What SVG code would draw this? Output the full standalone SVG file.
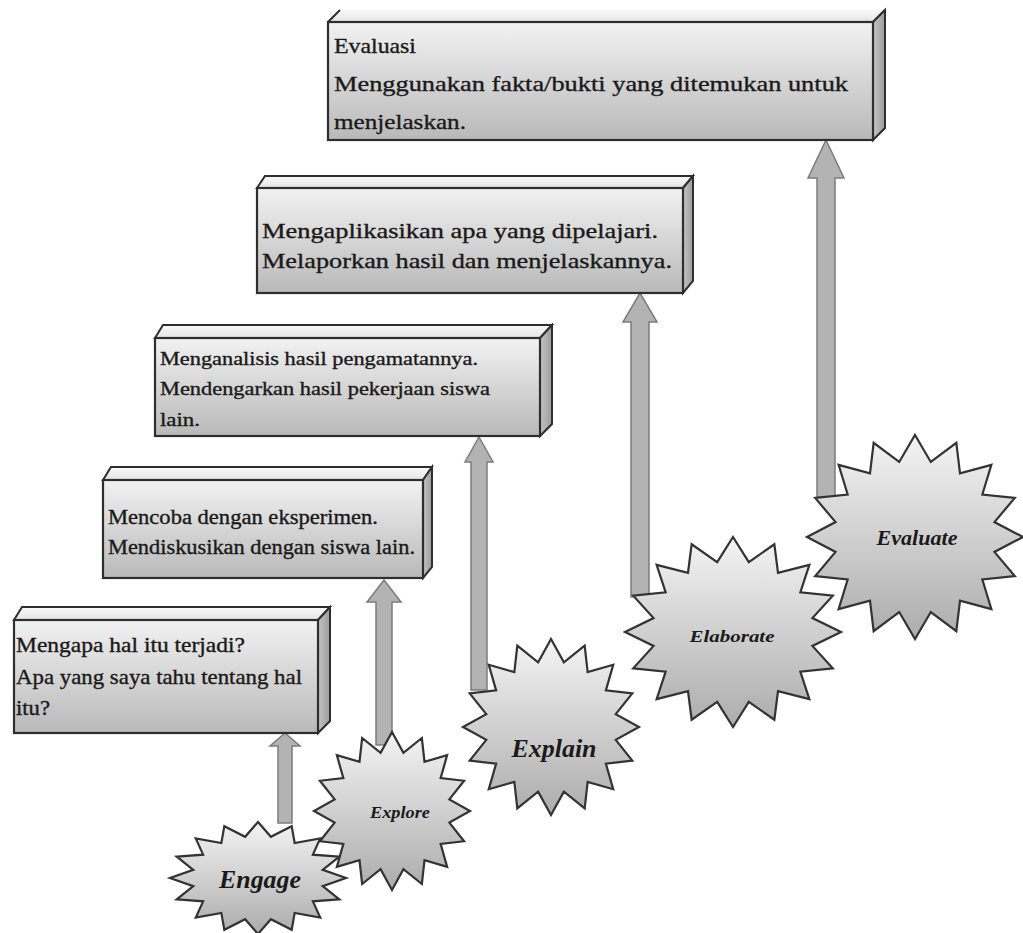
<svg xmlns="http://www.w3.org/2000/svg" xmlns:xlink="http://www.w3.org/1999/xlink" width="1023" height="933" viewBox="0 0 1023 933">
<defs>
<linearGradient id="gFront" x1="0" y1="0" x2="0" y2="1">
<stop offset="0" stop-color="#f2f2f2"/><stop offset="1" stop-color="#b9b9b9"/>
</linearGradient>
<linearGradient id="gTop" x1="0" y1="0" x2="0" y2="1">
<stop offset="0" stop-color="#fafafa"/><stop offset="1" stop-color="#e4e4e4"/>
</linearGradient>
<linearGradient id="gSide" x1="0" y1="0" x2="1" y2="0">
<stop offset="0" stop-color="#c4c4c4"/><stop offset="1" stop-color="#9c9c9c"/>
</linearGradient>
<linearGradient id="gStar" x1="0" y1="0" x2="0" y2="1">
<stop offset="0" stop-color="#f4f4f4"/><stop offset="1" stop-color="#acacac"/>
</linearGradient>
<polygon id="star16" fill="url(#gStar)" stroke="#333" stroke-width="2.2" stroke-linejoin="miter" vector-effect="non-scaling-stroke" points="0,-100 14.63,-73.56 38.27,-92.39 41.67,-62.36 70.71,-70.71 62.36,-41.67 92.39,-38.27 73.56,-14.63 100,0 73.56,14.63 92.39,38.27 62.36,41.67 70.71,70.71 41.67,62.36 38.27,92.39 14.63,73.56 0,100 -14.63,73.56 -38.27,92.39 -41.67,62.36 -70.71,70.71 -62.36,41.67 -92.39,38.27 -73.56,14.63 -100,0 -73.56,-14.63 -92.39,-38.27 -62.36,-41.67 -70.71,-70.71 -41.67,-62.36 -38.27,-92.39 -14.63,-73.56"/>
<style>
.front{fill:url(#gFront);stroke:#2e2e2e;stroke-width:2.2}
.top{fill:url(#gTop);stroke:#2e2e2e;stroke-width:2}
.side{fill:url(#gSide);stroke:#2e2e2e;stroke-width:2}
.bt{font-family:"Liberation Serif","Times New Roman",serif;fill:#1a1a1a;stroke:#1a1a1a;stroke-width:0.35}
.st{font-family:"Liberation Serif","Times New Roman",serif;font-weight:bold;font-style:italic;fill:#1a1a1a;text-anchor:middle}
.arr{fill:#b3b3b3;stroke:#7c7c7c;stroke-width:1.5}
</style>
</defs>
<rect width="1023" height="933" fill="#ffffff"/>

<g id="connectors">
<polygon class="arr" points="285,733 300,746 292,746 292,823 278,823 278,746 270,746"/>
<polygon class="arr" points="384,580 401,602 392,602 392,745 376,745 376,602 367,602"/>
<polygon class="arr" points="479,437 493,462 487,462 487,690 471,690 471,462 465,462"/>
<polygon class="arr" points="640,293 657,322 649,322 649,597 631,597 631,322 623,322"/>
<polygon class="arr" points="826,140 844,178 835,178 835,497 817,497 817,178 808,178"/>
</g>

<g id="box-engage">
<polygon class="top" points="14,620 22,607 330,607 318,620"/>
<polygon class="side" points="318,620 330,607 330,721 318,733"/>
<rect class="front" x="14" y="620" width="304" height="113"/>
<text class="bt" font-size="21" x="16" y="652" textLength="229" lengthAdjust="spacingAndGlyphs">Mengapa hal itu terjadi?</text>
<text class="bt" font-size="21" x="16" y="684" textLength="286" lengthAdjust="spacingAndGlyphs">Apa yang saya tahu tentang hal</text>
<text class="bt" font-size="21" x="16" y="715" textLength="34" lengthAdjust="spacingAndGlyphs">itu?</text>
</g>

<g id="box-explore">
<polygon class="top" points="103,480 111,467 432,467 423,480"/>
<polygon class="side" points="423,480 432,467 432,567 423,578"/>
<rect class="front" x="103" y="480" width="320" height="98"/>
<text class="bt" font-size="20" x="108" y="524" textLength="270" lengthAdjust="spacingAndGlyphs">Mencoba dengan eksperimen.</text>
<text class="bt" font-size="20" x="108" y="554" textLength="307" lengthAdjust="spacingAndGlyphs">Mendiskusikan dengan siswa lain.</text>
</g>

<g id="box-explain">
<polygon class="top" points="155,338 163,325 552,325 540,338"/>
<polygon class="side" points="540,338 552,325 552,424 540,436"/>
<rect class="front" x="155" y="338" width="385" height="98"/>
<text class="bt" font-size="19" x="160" y="365" textLength="318" lengthAdjust="spacingAndGlyphs">Menganalisis hasil pengamatannya.</text>
<text class="bt" font-size="19" x="160" y="395" textLength="330" lengthAdjust="spacingAndGlyphs">Mendengarkan hasil pekerjaan siswa</text>
<text class="bt" font-size="19" x="160" y="426" textLength="40" lengthAdjust="spacingAndGlyphs">lain.</text>
</g>

<g id="box-elaborate">
<polygon class="top" points="257,188 265,176 693,176 683,188"/>
<polygon class="side" points="683,188 693,176 693,281 683,293"/>
<rect class="front" x="257" y="188" width="426" height="105"/>
<text class="bt" font-size="22" x="262" y="238" textLength="396" lengthAdjust="spacingAndGlyphs">Mengaplikasikan apa yang dipelajari.</text>
<text class="bt" font-size="22" x="262" y="268" textLength="410" lengthAdjust="spacingAndGlyphs">Melaporkan hasil dan menjelaskannya.</text>
</g>

<g id="box-evaluate">
<polygon points="328,22 340,10 885,10 873,22" fill="url(#gTop)"/>
<path d="M328,22 L340,10 M873,22 L885,10" stroke="#2e2e2e" stroke-width="2" fill="none"/>
<polygon class="side" points="873,22 885,10 885,128 873,140"/>
<rect class="front" x="328" y="22" width="545" height="118"/>
<text class="bt" font-size="22" x="334" y="53" textLength="82" lengthAdjust="spacingAndGlyphs">Evaluasi</text>
<text class="bt" font-size="22" x="334" y="91" textLength="514" lengthAdjust="spacingAndGlyphs">Menggunakan fakta/bukti yang ditemukan untuk</text>
<text class="bt" font-size="22" x="334" y="129" textLength="132" lengthAdjust="spacingAndGlyphs">menjelaskan.</text>
</g>

<g id="star-engage">
<use xlink:href="#star16" href="#star16" transform="translate(258,878) scale(0.88,0.56)"/>
<text class="st" font-size="25" x="260" y="888" textLength="82" lengthAdjust="spacingAndGlyphs">Engage</text>
</g>
<g id="star-explore">
<use xlink:href="#star16" href="#star16" transform="translate(392,811) scale(0.78,0.79)"/>
<text class="st" font-size="16" x="400" y="818" textLength="60" lengthAdjust="spacingAndGlyphs">Explore</text>
</g>
<g id="star-explain">
<use xlink:href="#star16" href="#star16" transform="translate(551,727) scale(0.88,0.88)"/>
<text class="st" font-size="26" x="554" y="757" textLength="85" lengthAdjust="spacingAndGlyphs">Explain</text>
</g>
<g id="star-elaborate">
<use xlink:href="#star16" href="#star16" transform="translate(733,632) scale(1.08,0.95)"/>
<text class="st" font-size="17" x="732" y="642" textLength="85" lengthAdjust="spacingAndGlyphs">Elaborate</text>
</g>
<g id="star-evaluate">
<use xlink:href="#star16" href="#star16" transform="translate(915,537) scale(1.08,1.02)"/>
<text class="st" font-size="22" x="917" y="545" textLength="81" lengthAdjust="spacingAndGlyphs">Evaluate</text>
</g>
</svg>
